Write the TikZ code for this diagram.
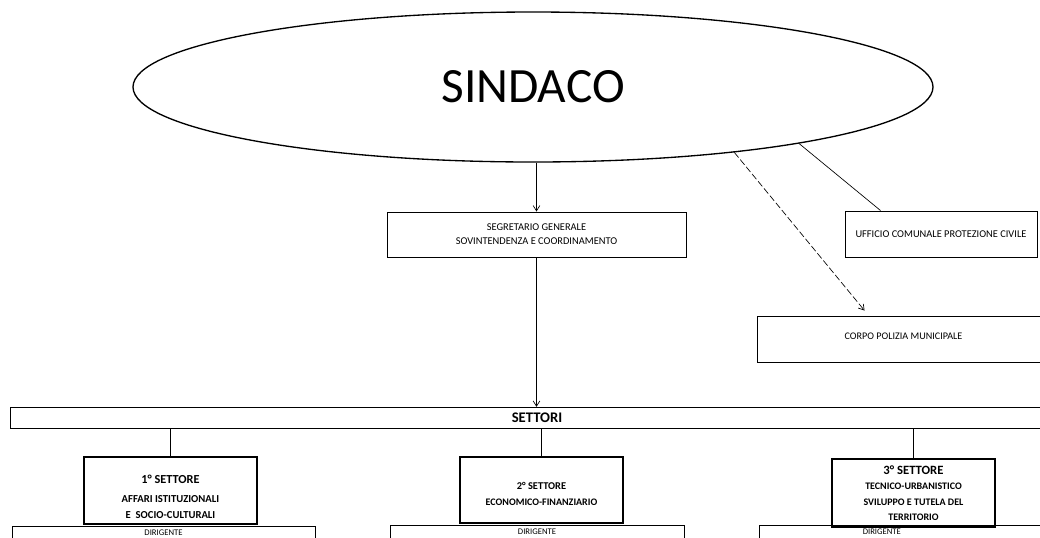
\documentclass[tikz,border=0pt]{standalone}
\usepackage{fontspec}
\setmainfont{Carlito}
\usetikzlibrary{shapes.geometric,arrows.meta,calc}

\tikzset{
  box/.style={draw, line width=0.7pt, inner sep=0pt, align=center},
  settbox/.style={draw, line width=0.9pt, inner sep=0pt, align=center, font=\bfseries},
  dirbox/.style={draw, line width=0.7pt, inner sep=0pt, anchor=north, minimum height=10pt, font=\fontsize{6.5}{8}\selectfont},
  arr/.style={line width=0.5pt, -{Straight Barb[length=4pt,width=5pt]}},
  link/.style={line width=0.5pt}
}

\begin{document}
\begin{tikzpicture}[x=0.75pt,y=0.75pt,yscale=-1,xscale=1]
\useasboundingbox (0,0) rectangle (1040,537);

%Shape: Ellipse [sindaco]
\node [ellipse, draw, line width=1pt, inner sep=0pt, minimum width=600pt, minimum height=112.5pt, font=\fontsize{37}{40}\selectfont] (sindaco) at (533,87) {SINDACO};

%Shape: Rectangle [segretario]
\node [box, minimum width=224.25pt, minimum height=33.75pt, font=\fontsize{7.8}{10.5}\selectfont] (segr) at (536.5,234.5) {SEGRETARIO GENERALE\\SOVINTENDENZA E COORDINAMENTO};
%Shape: Rectangle [ufficio]
\node [box, minimum width=144pt, minimum height=34.5pt, font=\fontsize{7.8}{10}\selectfont] (uffic) at (941,234) {UFFICIO COMUNALE PROTEZIONE CIVILE};
%Shape: Rectangle [polizia]
\node [box, minimum width=219.75pt, minimum height=34.5pt, font=\fontsize{7.6}{10}\selectfont] (poliz) at (903.5,339) {\raisebox{4.5pt}{CORPO POLIZIA MUNICIPALE}};

%Shape: Rectangle [settori]
\node [box, minimum width=790.5pt, minimum height=16pt, font=\fontsize{11}{13}\selectfont\bfseries] (settori) at (537,418) {SETTORI};

%Shape: Rectangle [dirigenti]
\node [dirbox, minimum width=227.25pt] (dir1) at (163.5,526) {DIRIGENTE};
\node [dirbox, minimum width=220.5pt] (dir2) at (537,525) {DIRIGENTE};
\node [dirbox, minimum width=218.25pt] (dir3) at (904.5,525) {DIRIGENTE\hspace*{34pt}};

%Shape: Rectangle [settori 1-3]
\node [settbox, minimum width=129.75pt, minimum height=50.25pt, font=\fontsize{8}{12}\selectfont\bfseries] (sec1) at (170.5,490.5) {\rule{0pt}{15.5pt}{\fontsize{9.2}{12}\selectfont 1° SETTORE}\\[2pt]AFFARI ISTITUZIONALI\\E\ \ SOCIO-CULTURALI};
\node [settbox, minimum width=122.25pt, minimum height=49.5pt, font=\fontsize{7.5}{12}\selectfont\bfseries] (sec2) at (541.5,490) {\rule{0pt}{11.5pt}{\fontsize{7.8}{12}\selectfont 2° SETTORE}\\ECONOMICO-FINANZIARIO};
\node [settbox, minimum width=122.25pt, minimum height=51pt, font=\fontsize{7.5}{11.5}\selectfont\bfseries] (sec3) at (913.5,493) {{\fontsize{9.5}{12}\selectfont 3° SETTORE}\\TECNICO-URBANISTICO\\SVILUPPO E TUTELA DEL\\TERRITORIO};

%Connectors
\coordinate (uffin) at ($(uffic.north west)+(36,0)$);
\coordinate (polin) at ($(poliz.north west)+(108,-5)$);
\draw [arr] (segr.north |- sindaco.south) -- (segr.north);
\draw [arr] (segr.south) -- (segr.south |- settori.north);
\draw [link] (sindaco.-12.3) -- (uffin);
\draw [arr, dash pattern={on 5pt off 2pt}] (sindaco.-18.3) -- (polin);
\draw [link] (sec1.north) -- (sec1.north |- settori.south);
\draw [link] (sec2.north) -- (sec2.north |- settori.south);
\draw [link] (sec3.north) -- (sec3.north |- settori.south);

\end{tikzpicture}
\end{document}
